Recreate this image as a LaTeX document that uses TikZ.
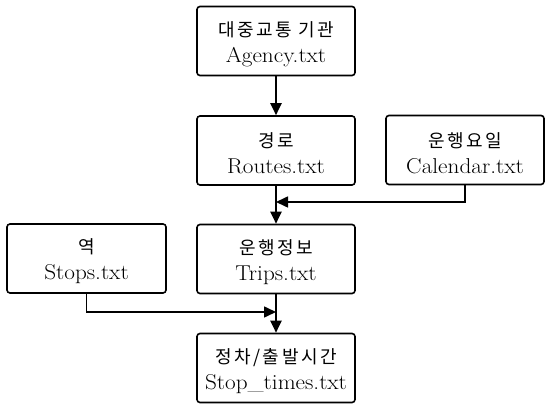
\documentclass[tikz,border=0pt]{standalone}
\usepackage{fontspec}
\setmainfont{Latin Modern Roman}[FakeStretch=1.08]
\newfontfamily\kr{Noto Sans CJK KR}[LetterSpace=14]
\usetikzlibrary{arrows.meta}
\tikzset{
  fbox/.style={draw, line width=1.6pt, rounded corners=3pt, minimum width=158pt,
    minimum height=69pt, inner sep=0pt},
  txt/.style={align=center, inner sep=0pt, font=\fontsize{21.5}{26}\selectfont},
  conn/.style={line width=2pt, -{Triangle[length=12pt,width=11pt]}},
  side/.style={line width=1.6pt, -{Triangle[length=12pt,width=11pt]}}
}
\newcommand{\krl}[1]{{\kr\fontsize{18}{26}\selectfont #1}}
\begin{document}
\begin{tikzpicture}[x=1pt,y=-1pt]
\useasboundingbox[fill=white] (0,0) rectangle (552,411);
\node[fbox] (agency) at (276,41) {};
\node[fbox] (routes) at (276,150.5) {};
\node[fbox] (cal) at (465,150) {};
\node[fbox, minimum width=159pt] (stops) at (86.5,258.5) {};
\node[fbox] (trips) at (276,259) {};
\node[fbox] (times) at (276,368) {};
\node[txt] (tagency) at ([yshift=-3pt]agency.center) {\krl{대중교통 기관}\\Agency.txt};
\node[txt] (troutes) at ([yshift=-3pt]routes.center) {\krl{경로}\\Routes.txt};
\node[txt] (tcal) at ([yshift=-3pt]cal.center) {\krl{운행요일}\\Calendar.txt};
\node[txt] (tstops) at ([yshift=-3pt]stops.center) {\krl{역}\\Stops.txt};
\node[txt] (ttrips) at ([yshift=-3pt]trips.center) {\krl{운행정보}\\Trips.txt};
\node[txt] (ttimes) at ([yshift=-3pt]times.center) {\krl{정차/출발시간}\\Stop\_times.txt};
\coordinate (j1) at (276,202);
\coordinate (j2) at (276,312);
\draw[conn] (agency.south) -- (routes.north);
\draw[conn] (routes.south) -- (trips.north);
\draw[conn] (trips.south) -- (times.north);
\draw[side] (cal.south) |- (j1);
\draw[side] (stops.south) |- (j2);
\end{tikzpicture}
\end{document}
